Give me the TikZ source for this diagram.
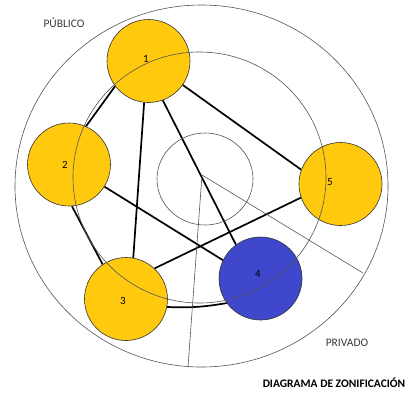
\documentclass[tikz,border=0pt]{standalone}
\usepackage{fontspec}
\setmainfont{Carlito}
\usetikzlibrary{backgrounds}
\definecolor{zyellow}{HTML}{FFC90E}
\definecolor{zblue}{HTML}{3F48CC}
\definecolor{ringgray}{HTML}{555555}
\definecolor{txtgray}{HTML}{3A3A3A}
\tikzset{
  zone/.style={circle, draw=black!80, line width=0.6pt, inner sep=0pt, minimum size=83pt},
  link/.style={line width=1.7pt, black},
  ring/.style={draw=ringgray, line width=0.6pt},
  num/.style={font=\fontsize{11}{12}\selectfont, text=black, inner sep=0pt},
  tag/.style={font=\fontsize{11.5}{13}\selectfont, text=txtgray, inner sep=0pt},
  title/.style={font=\fontsize{11.5}{13}\selectfont\bfseries, text=black, inner sep=0pt}
}
\begin{document}
\begin{tikzpicture}[x=1pt,y=-1pt]
\useasboundingbox (0,0) rectangle (411,392);
% zone circles
\node[zone, fill=zyellow] (n1) at (148.5,61) {};
\node[zone, fill=zyellow] (n2) at (69,164.5) {};
\node[zone, fill=zyellow] (n3) at (126,299) {};
\node[zone, fill=zblue]   (n4) at (260.5,278.5) {};
\node[zone, fill=zyellow] (n5) at (340.5,184) {};
% white page and connectors behind
\begin{pgfonlayer}{background}
\fill[white] (0,0) rectangle (411,392);
\draw[link] (n1.217) -- (n2.66);
\draw[link] (n1.264) -- (n3.80);
\draw[link] (n1.290) -- (n4.126);
\draw[link] (n1.325) -- (n5.160);
\draw[link] (n2.274) -- (n3.124);
\draw[link] (n2.328) -- (n4.154);
\draw[link] (n3.47) -- (n5.199);
\draw[link] (n3.349) to[bend right=6] (n4.216);
\end{pgfonlayer}
% rings
\coordinate (oc) at (201.5,186);
\coordinate (mc) at (199.5,177.5);
\coordinate (ic) at (205,179);
\draw[ring] (oc) ellipse [x radius=186.5pt, y radius=181pt];
\draw[ring] (mc) ellipse [x radius=126.5pt, y radius=125.5pt];
\draw[ring] (ic) ellipse [x radius=48pt, y radius=46pt];
% radial lines
\coordinate (hub) at (202,175);
\coordinate (rimA) at (188,367);
\coordinate (rimB) at (363,273);
\draw[ring] (hub) -- (rimA);
\draw[ring] (hub) -- (rimB);
% numbers
\node[num] (t1) at (146,59) {1};
\node[num] (t2) at (65,165) {2};
\node[num] (t3) at (123,301) {3};
\node[num] (t4) at (258,274) {4};
\node[num] (t5) at (330,182) {5};
% texts
\node[tag] (pub) at (64,23) {PÚBLICO};
\node[tag] (priv) at (347,343) {PRIVADO};
\node[title] (ttl) at (334,383) {DIAGRAMA DE ZONIFICACIÓN};
\end{tikzpicture}
\end{document}
